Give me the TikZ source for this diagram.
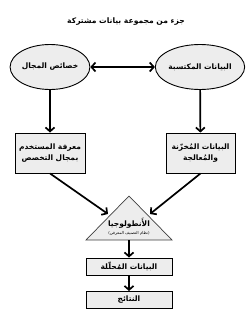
\documentclass[tikz,border=0pt]{standalone}
\usepackage{fontspec}
\usetikzlibrary{arrows.meta,shapes.geometric}
\TeXXeTstate=1
\newfontfamily\arabicfont[Script=Arabic]{DejaVu Sans}
\begin{document}
\begin{tikzpicture}[x=1pt,y=-1pt,
  every node/.style={font=\arabicfont\fontsize{7.5}{9}\selectfont\bfseries, align=center},
  ellbox/.style={ellipse, draw, line width=0.9pt, fill=gray!14, minimum width=68pt, minimum height=45pt, inner sep=0pt},
  rectbox/.style={rectangle, draw, line width=0.9pt, fill=gray!14, inner sep=0pt},
  conn/.style={line width=1.7pt, -{Straight Barb[length=4pt,width=9pt,line width=1.7pt]}},
  dconn/.style={line width=1.7pt, {Straight Barb[length=4pt,width=9pt,line width=1.7pt]}-{Straight Barb[length=4pt,width=9pt,line width=1.7pt]}}
]
\useasboundingbox (0,0) rectangle (250,324);
\node[font=\arabicfont\fontsize{7.6}{9}\selectfont\bfseries] (title) at (126,22) {\beginR جزء من مجموعة بيانات مشتركة\endR};
\node[ellbox] (dom) at (50,67) {\beginR خصائص المجال\endR};
\node[ellbox] (acq) at (200,67) {\beginR البيانات المكتسبة\endR};
\node[rectbox, minimum width=70pt, minimum height=40pt] (usr) at (50,153) {\beginR معرفة المستخدم\endR\\[2pt]\beginR بمجال التخصص\endR};
\node[rectbox, minimum width=69pt, minimum height=40pt] (stor) at (200.5,153) {\beginR البيانات المُخزّنة\endR\\[2pt]\beginR والمُعالجة\endR};
\coordinate (tA) at (129,196);
\coordinate (tL) at (86,240);
\coordinate (tR) at (172,240);
\draw[line width=0.7pt, draw=black!75, fill=gray!14] (tA) -- (tL) -- (tR) -- cycle;
\coordinate (tLs) at (108,214);
\coordinate (tRs) at (150,214);
\coordinate (tB) at (129,240);
\node (onto) at (129,223) {\beginR الأَنطولوجيا\endR};
\node[font=\arabicfont\fontsize{4}{5}\selectfont] (onsub) at (129,233) {\beginR(نظام التصنيف المعرفي)\endR};
\node[rectbox, minimum width=86pt, minimum height=17pt] (anl) at (129,266.5) {\beginR البيانات المُحلّلة\endR};
\node[rectbox, minimum width=86pt, minimum height=17pt] (res) at (129,300) {\beginR النتائج\endR};
\draw[dconn] (dom) -- (acq);
\draw[conn] (dom) -- (usr);
\draw[conn] (acq) -- (stor);
\draw[conn] (usr.south) -- (tLs);
\draw[conn] (stor.south) -- (tRs);
\draw[conn] (tB) -- (anl);
\draw[conn] (anl) -- (res);
\end{tikzpicture}
\end{document}
